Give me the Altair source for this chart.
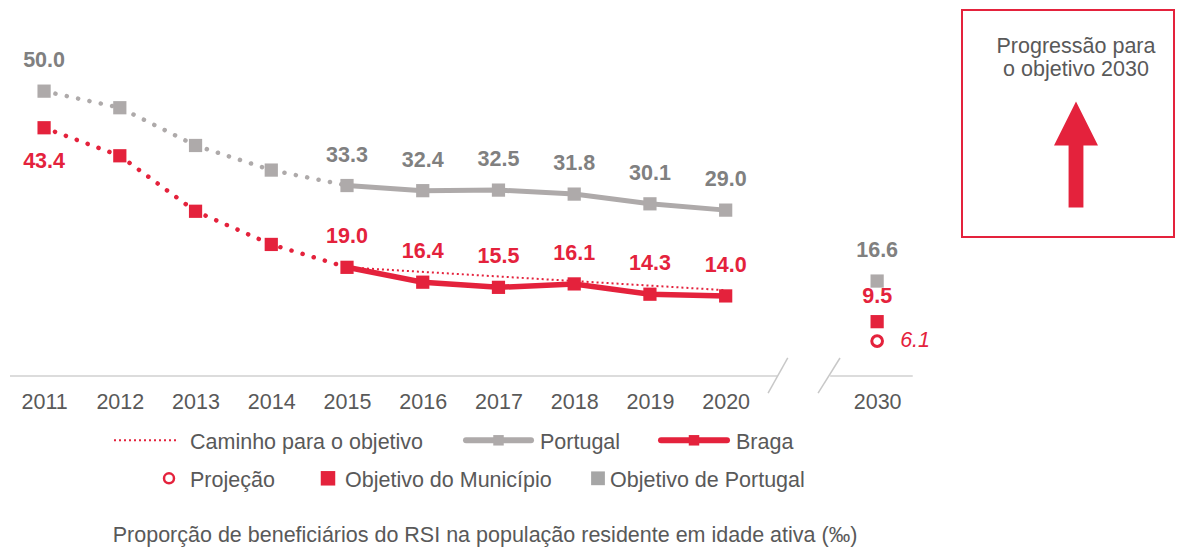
import altair as alt
import pandas as pd

# ---------------- data ----------------
years = ["2011", "2012", "2013", "2014", "2015", "2016", "2017", "2018", "2019", "2020"]
portugal = [49.8, 46.9, 40.3, 36.0, 33.3, 32.4, 32.5, 31.8, 30.1, 29.0]
portugal_labels = ["50.0", "", "", "", "33.3", "32.4", "32.5", "31.8", "30.1", "29.0"]
braga = [43.4, 38.5, 28.8, 23.0, 19.0, 16.4, 15.5, 16.1, 14.3, 14.0]
braga_labels = ["43.4", "", "", "", "19.0", "16.4", "15.5", "16.1", "14.3", "14.0"]
caminho_years = ["2015", "2020"]
caminho = [19.0, 15.0]
target_year = "2030"
portugal_target = 16.6
braga_target = 9.5
braga_projection = 6.1

# position of each category on the (broken) x axis
pos_of = {y: i for i, y in enumerate(years)}
pos_of["2030"] = 11

RED = "#E4223C"
GRAY = "#AEAAAA"
GRAY_TXT = "#808080"
DARK = "#595959"
FONT = "Liberation Sans"
FS = 21.5

df = pd.DataFrame({
    "year": years,
    "pos": [pos_of[y] for y in years],
    "portugal": portugal,
    "plab": portugal_labels,
    "braga": braga,
    "blab": braga_labels,
})
df_cam = pd.DataFrame({"pos": [pos_of[y] for y in caminho_years], "v": caminho})
df_tgt = pd.DataFrame({
    "pos": [pos_of[target_year]] * 3,
    "v": [portugal_target, braga_target, braga_projection],
    "kind": ["pt", "braga", "proj"],
    "lab": [f"{portugal_target:.1f}", f"{braga_target:.1f}", f"{braga_projection:.1f}"],
})

# broken axis decoration (data units)
axis_x = [-0.45, 10.38]
axis_x2 = [9.68, 11.47]
slash_x = [9.56, 10.22]
slash_x2 = [9.82, 10.51]
slash_y = [-3.0, -3.0]
slash_y2 = [3.15, 3.15]

xs = alt.Scale(domain=[-0.45, 11.5], nice=False, zero=False)
ys = alt.Scale(domain=[0, 60], nice=False, zero=False)

X = alt.X("pos:Q", scale=xs,
          axis=alt.Axis(values=list(range(10)) + [11],
                        labelExpr="datum.value == 11 ? '2030' : '' + (2011 + datum.value)",
                        domain=False, ticks=False, grid=False, title=None,
                        labelFont=FONT, labelFontSize=FS, labelColor=DARK,
                        labelPadding=15))

base = alt.Chart(df)

# axis line pieces & slashes
ax_df = pd.DataFrame({"x": axis_x, "x2": axis_x2, "y": [0, 0]})
axis_lines = alt.Chart(ax_df).mark_rule(color="#D0D0D0", strokeWidth=1.5).encode(
    x=alt.X("x:Q", scale=xs), x2="x2:Q", y=alt.Y("y:Q", scale=ys))
sl_df = pd.DataFrame({"x": slash_x, "x2": slash_x2, "y": slash_y, "y2": slash_y2})
slashes = alt.Chart(sl_df).mark_rule(color="#C8C8C8", strokeWidth=1.5).encode(
    x=alt.X("x:Q", scale=xs), x2="x2:Q", y=alt.Y("y:Q", scale=ys), y2="y2:Q")

ticks_axis = base.mark_point(opacity=0).encode(x=X, y=alt.Y("portugal:Q", scale=ys, axis=None))

# Portugal
pt_dot = base.mark_line(color=GRAY, strokeWidth=4.5, strokeDash=[0.1, 11.5], strokeCap="round").encode(
    x=alt.X("pos:Q", scale=xs), y=alt.Y("portugal:Q", scale=ys)).transform_filter("datum.pos <= 4")
pt_solid = base.mark_line(color=GRAY, strokeWidth=5).encode(
    x=alt.X("pos:Q", scale=xs), y=alt.Y("portugal:Q", scale=ys)).transform_filter("datum.pos >= 4")
pt_pts = base.mark_square(color=GRAY, size=175, opacity=1).encode(
    x=alt.X("pos:Q", scale=xs), y=alt.Y("portugal:Q", scale=ys))
pt_txt = base.mark_text(color=GRAY_TXT, font=FONT, fontSize=FS, fontWeight="bold", dy=-30).encode(
    x=alt.X("pos:Q", scale=xs), y=alt.Y("portugal:Q", scale=ys), text="plab:N")

# Braga
br_dot = base.mark_line(color=RED, strokeWidth=4.5, strokeDash=[0.1, 11.5], strokeCap="round").encode(
    x=alt.X("pos:Q", scale=xs), y=alt.Y("braga:Q", scale=ys)).transform_filter("datum.pos <= 4")
cam = alt.Chart(df_cam).mark_line(color=RED, strokeWidth=2, strokeDash=[2, 3]).encode(
    x=alt.X("pos:Q", scale=xs), y=alt.Y("v:Q", scale=ys))
br_solid = base.mark_line(color=RED, strokeWidth=5.5).encode(
    x=alt.X("pos:Q", scale=xs), y=alt.Y("braga:Q", scale=ys)).transform_filter("datum.pos >= 4")
br_pts = base.mark_square(color=RED, size=175, opacity=1).encode(
    x=alt.X("pos:Q", scale=xs), y=alt.Y("braga:Q", scale=ys))
br_txt_up = base.mark_text(color=RED, font=FONT, fontSize=FS, fontWeight="bold", dy=-30).encode(
    x=alt.X("pos:Q", scale=xs), y=alt.Y("braga:Q", scale=ys), text="blab:N").transform_filter("datum.pos >= 4")
br_txt_dn = base.mark_text(color=RED, font=FONT, fontSize=FS, fontWeight="bold", dy=34).encode(
    x=alt.X("pos:Q", scale=xs), y=alt.Y("braga:Q", scale=ys), text="blab:N").transform_filter("datum.pos < 4")

# 2030 targets
tg = alt.Chart(df_tgt)
tg_pt = tg.mark_square(color=GRAY, size=175, opacity=1).encode(
    x=alt.X("pos:Q", scale=xs), y=alt.Y("v:Q", scale=ys)).transform_filter("datum.kind == 'pt'")
tg_br = tg.mark_square(color=RED, size=175, opacity=1).encode(
    x=alt.X("pos:Q", scale=xs), y=alt.Y("v:Q", scale=ys)).transform_filter("datum.kind == 'braga'")
tg_pj = tg.mark_point(shape="circle", color=RED, size=115, strokeWidth=3, filled=False, opacity=1).encode(
    x=alt.X("pos:Q", scale=xs), y=alt.Y("v:Q", scale=ys)).transform_filter("datum.kind == 'proj'")
tg_pt_t = tg.mark_text(color=GRAY_TXT, font=FONT, fontSize=FS, fontWeight="bold", dy=-30).encode(
    x=alt.X("pos:Q", scale=xs), y=alt.Y("v:Q", scale=ys), text="lab:N").transform_filter("datum.kind == 'pt'")
tg_br_t = tg.mark_text(color=RED, font=FONT, fontSize=FS, fontWeight="bold", dy=-25).encode(
    x=alt.X("pos:Q", scale=xs), y=alt.Y("v:Q", scale=ys), text="lab:N").transform_filter("datum.kind == 'braga'")
tg_pj_t = tg.mark_text(color=RED, font=FONT, fontSize=FS, fontStyle="italic", align="left", dx=23).encode(
    x=alt.X("pos:Q", scale=xs), y=alt.Y("v:Q", scale=ys), text="lab:N").transform_filter("datum.kind == 'proj'")

# ---------------- legend (pixel positions) ----------------
one = pd.DataFrame({"a": [0]})
L = alt.Chart(one)
R1, R2 = 407.5, 445.5
T1, T2 = R1 + 2.5, R2 + 2.5


def ltext(x, y, s):
    return L.mark_text(text=s, font=FONT, fontSize=FS, color=DARK, align="left", baseline="middle").encode(
        x=alt.value(x), y=alt.value(y))


leg = [
    L.mark_rule(color=RED, strokeWidth=2, strokeDash=[2, 3]).encode(x=alt.value(104), x2=alt.value(169), y=alt.value(R1)),
    ltext(180, T1, "Caminho para o objetivo"),
    L.mark_rule(color=GRAY, strokeWidth=6, strokeCap="round").encode(x=alt.value(456), x2=alt.value(521), y=alt.value(R1)),
    L.mark_square(color=GRAY, size=110, opacity=1).encode(x=alt.value(488.5), y=alt.value(R1)),
    ltext(530, T1, "Portugal"),
    L.mark_rule(color=RED, strokeWidth=6, strokeCap="round").encode(x=alt.value(651), x2=alt.value(717), y=alt.value(R1)),
    L.mark_square(color=RED, size=110, opacity=1).encode(x=alt.value(684), y=alt.value(R1)),
    ltext(726, T1, "Braga"),
    L.mark_point(shape="circle", color=RED, size=100, strokeWidth=2.5, filled=False, opacity=1).encode(x=alt.value(159), y=alt.value(R2)),
    ltext(180, T2, "Projeção"),
    L.mark_square(color=RED, size=210, opacity=1).encode(x=alt.value(318), y=alt.value(R2)),
    ltext(335, T2, "Objetivo do Município"),
    L.mark_square(color="#A6A6A6", size=190, opacity=1).encode(x=alt.value(588), y=alt.value(R2)),
    ltext(600, T2, "Objetivo de Portugal"),
]

# ---------------- side box ----------------
ARROW = "M0,-1 L0.415,-0.17 L0.14,-0.17 L0.14,1 L-0.14,1 L-0.14,-0.17 L-0.415,-0.17 Z"
BX = 1066
box = [
    L.mark_rect(fill="white", fillOpacity=0, stroke=RED, strokeWidth=2).encode(
        x=alt.value(952), x2=alt.value(1164), y=alt.value(-22.8), y2=alt.value(204.2)),
    L.mark_text(text="Progressão para", font=FONT, fontSize=FS, color=DARK, align="center", baseline="middle").encode(
        x=alt.value(BX), y=alt.value(14)),
    L.mark_text(text="o objetivo 2030", font=FONT, fontSize=FS, color=DARK, align="center", baseline="middle").encode(
        x=alt.value(BX), y=alt.value(37)),
    L.mark_point(shape=ARROW, size=11236, filled=True, color=RED, opacity=1, strokeWidth=0).encode(
        x=alt.value(BX), y=alt.value(121.6)),
]

title = L.mark_text(text="Proporção de beneficiários do RSI na população residente em idade ativa (‰)",
                    font=FONT, fontSize=FS, color=DARK, align="center", baseline="alphabetic").encode(
    x=alt.value(475), y=alt.value(509))

chart = alt.layer(
    ticks_axis, axis_lines, slashes,
    pt_dot, pt_solid, pt_pts, pt_txt,
    cam, br_dot, br_solid, br_pts, br_txt_up, br_txt_dn,
    tg_pt, tg_br, tg_pj, tg_pt_t, tg_br_t, tg_pj_t,
    *leg, *box, title,
).properties(
    width=905, height=343.2,
    autosize=alt.AutoSizeParams(type="none"),
    padding={"left": 2, "top": 24.8, "right": 260, "bottom": 171},
).configure_view(stroke=None)

chart.save("out.html", embed_options={"renderer": "svg", "actions": False})
